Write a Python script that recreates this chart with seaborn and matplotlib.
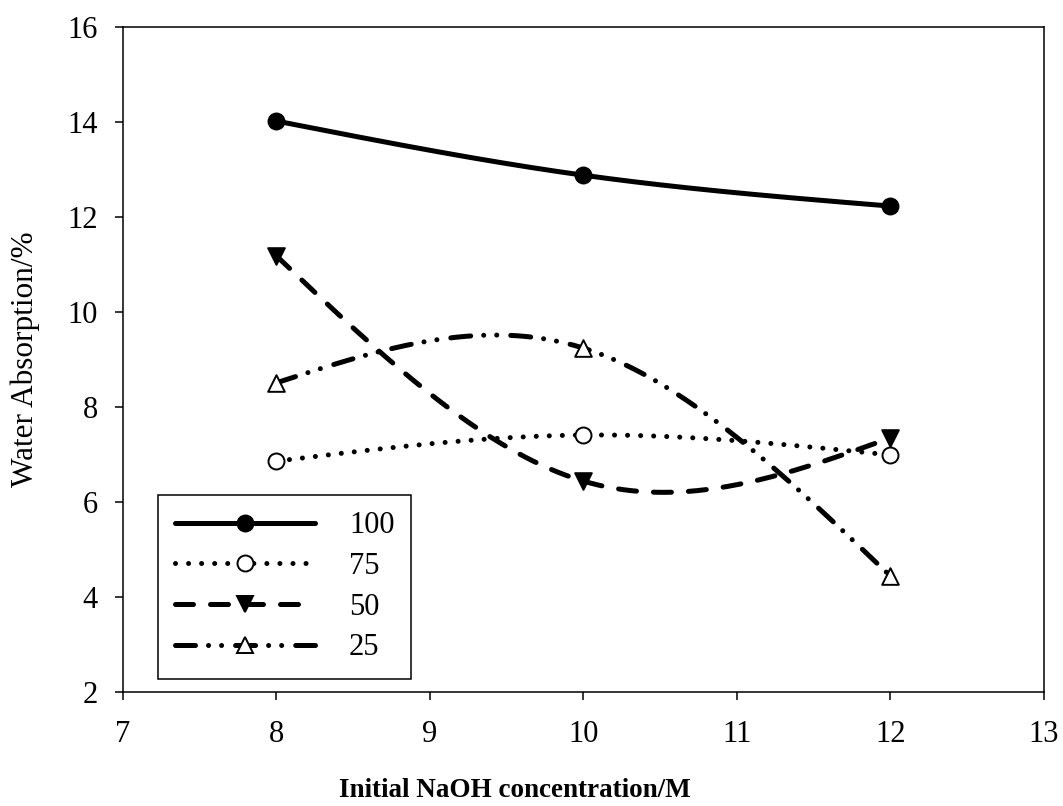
import numpy as np
import matplotlib
matplotlib.use("Agg")
import matplotlib.pyplot as plt
import seaborn as sns
from matplotlib.lines import Line2D

# data
naoh = [8, 10, 12]
wa_100 = [14.02, 12.88, 12.23]
wa_75 = [6.86, 7.41, 6.99]
wa_50 = [11.18, 6.44, 7.35]
wa_25 = [8.51, 9.24, 4.44]
series_labels = ["100", "75", "50", "25"]
x_ticks = [7, 8, 9, 10, 11, 12, 13]
y_ticks = [2, 4, 6, 8, 10, 12, 14, 16]


def natural_spline(x, y, n=300):
    # smooth curve through the points, like the original plotting software
    x = np.asarray(x, float)
    y = np.asarray(y, float)
    k = len(x)
    h = np.diff(x)
    A = np.zeros((k, k))
    b = np.zeros(k)
    A[0, 0] = 1
    A[-1, -1] = 1
    for i in range(1, k - 1):
        A[i, i - 1] = h[i - 1]
        A[i, i] = 2 * (h[i - 1] + h[i])
        A[i, i + 1] = h[i]
        b[i] = 6 * ((y[i + 1] - y[i]) / h[i] - (y[i] - y[i - 1]) / h[i - 1])
    M = np.linalg.solve(A, b)
    xs = np.linspace(x[0], x[-1], n)
    idx = np.clip(np.searchsorted(x, xs) - 1, 0, k - 2)
    x0, x1 = x[idx], x[idx + 1]
    y0, y1 = y[idx], y[idx + 1]
    m0, m1 = M[idx], M[idx + 1]
    hh = x1 - x0
    ys = (m0 * (x1 - xs) ** 3 / (6 * hh) + m1 * (xs - x0) ** 3 / (6 * hh)
          + (y0 / hh - m0 * hh / 6) * (x1 - xs) + (y1 / hh - m1 * hh / 6) * (xs - x0))
    return xs, ys


sns.set_style("ticks")
plt.rcParams["font.family"] = ["Liberation Serif", "DejaVu Serif"]
for key in ["text.color", "axes.labelcolor", "xtick.color", "ytick.color", "axes.edgecolor"]:
    plt.rcParams[key] = "black"

LW = 3.6
styles = {
    "100": dict(ls="-", marker="o", fc="black", ms=11.5),
    "75": dict(ls=(0, (0.01, 2.6)), marker="o", fc="white", ms=11.5),
    "50": dict(ls=(0, (3.6, 3.4)), marker="v", fc="black", ms=12),
    "25": dict(ls=(0, (4, 2.6, 0.01, 2.6, 0.01, 2.8)), marker="^", fc="white", ms=12),
}

fig = plt.figure(figsize=(10.63, 8.06), dpi=100)
ax = fig.add_axes([0.1157, 0.1414, 0.8664, 0.8251])

handles = []
for lab, vals in zip(series_labels, [wa_100, wa_75, wa_50, wa_25]):
    st = styles[lab]
    xs, ys = natural_spline(naoh, vals)
    sns.lineplot(x=xs, y=ys, ax=ax, color="black", linewidth=LW, linestyle=st["ls"],
                 estimator=None, sort=False, solid_capstyle="round", dash_capstyle="round",
                 zorder=2)
    sns.scatterplot(x=naoh, y=vals, ax=ax, marker=st["marker"], s=st["ms"] ** 2,
                    color=st["fc"], edgecolor="black", linewidth=1.4, zorder=5)
    handles.append(Line2D([], [], color="black", lw=LW, linestyle=st["ls"],
                          dash_capstyle="round", solid_capstyle="round",
                          marker=st["marker"], markersize=st["ms"],
                          markerfacecolor=st["fc"], markeredgecolor="black",
                          markeredgewidth=1.4))

ax.set_xlim(7, 13)
ax.set_ylim(2, 16)
ax.set_xticks(x_ticks)
ax.set_yticks(y_ticks)
ax.tick_params(axis="both", direction="out", length=6, width=1.1, labelsize=22)
ax.tick_params(axis="x", pad=14)
ax.tick_params(axis="y", pad=12)
for sp in ax.spines.values():
    sp.set_linewidth(1.1)
    sp.set_color("black")

ax.set_ylabel("Water Absorption/%", fontsize=22.5)
ax.yaxis.set_label_coords(-0.09, 0.5)
ax.set_xlabel("Initial NaOH concentration/M", fontsize=19.5, fontweight="bold")
ax.xaxis.set_label_coords(0.4256, -0.129)

leg = ax.legend(handles, series_labels, loc="lower left", bbox_to_anchor=(0.038, 0.0195),
                borderaxespad=0, fontsize=22, frameon=True, fancybox=False,
                framealpha=1, edgecolor="black", handlelength=4.6,
                handletextpad=1.1, labelspacing=0.38, borderpad=0.55, numpoints=1)
leg.get_frame().set_linewidth(1.1)

fig.savefig("out.png", dpi=100)
